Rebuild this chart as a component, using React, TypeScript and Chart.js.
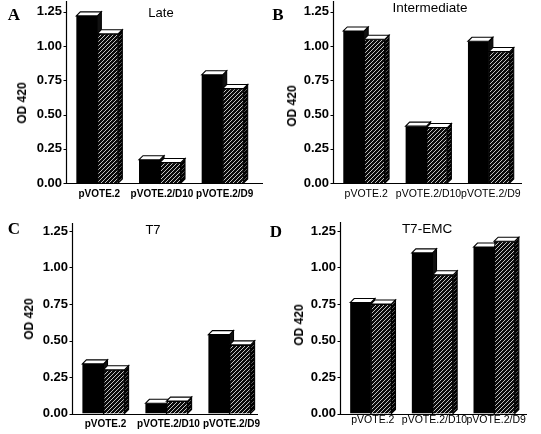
import React, { useEffect, useRef } from "react";
import { Chart, registerables } from "chart.js";

Chart.register(...registerables);

// ---------------- data ----------------
const categories = ["pVOTE.2", "pVOTE.2/D10", "pVOTE.2/D9"];
const yTickValues = [0, 0.25, 0.5, 0.75, 1.0, 1.25];
const yAxisTitle = "OD 420";

const lateSolid = [1.22, 0.17, 0.79];
const lateHatched = [1.09, 0.15, 0.69];
const intermediateSolid = [1.11, 0.415, 1.035];
const intermediateHatched = [1.05, 0.405, 0.96];
const t7Solid = [0.34, 0.07, 0.54];
const t7Hatched = [0.3, 0.085, 0.47];
const t7emcSolid = [0.76, 1.1, 1.14];
const t7emcHatched = [0.75, 0.95, 1.18];

const panelLetters = ["A", "B", "C", "D"];
const panelTitles = ["Late", "Intermediate", "T7", "T7-EMC"];

// ---------------- layout (page coordinates) ----------------
type Layout = {
  left: number; top: number; width: number; height: number;
  L: number; R: number; T: number; B: number;
  axisTop: number; axisRight: number;
  labelBold: boolean; labelPad: number; labelSize: number;
  titleX: number; titleY: number; titleSize: number;
  letterX: number; letterY: number;
  odX: number; odY: number;
};

const layouts: Layout[] = [
  { left: 0, top: 0, width: 270, height: 215, L: 66, R: 254, T: 11, B: 183, axisTop: 1, axisRight: 263,
    labelBold: true, labelPad: 5, labelSize: 10, titleX: 161, titleY: 12, titleSize: 13, letterX: 14, letterY: 14, odX: 22, odY: 103 },
  { left: 270, top: 0, width: 271, height: 215, L: 333, R: 520, T: 11, B: 183, axisTop: 1, axisRight: 522,
    labelBold: false, labelPad: 5, labelSize: 10.5, titleX: 430, titleY: 8, titleSize: 13.5, letterX: 278, letterY: 14, odX: 292, odY: 106 },
  { left: 0, top: 215, width: 270, height: 219, L: 72, R: 261, T: 231, B: 413.5, axisTop: 223, axisRight: 258,
    labelBold: true, labelPad: 4.5, labelSize: 10, titleX: 153, titleY: 229, titleSize: 13, letterX: 14, letterY: 228, odX: 29, odY: 319 },
  { left: 270, top: 215, width: 271, height: 219, L: 340, R: 525, T: 231, B: 413.5, axisTop: 222, axisRight: 527,
    labelBold: false, labelPad: 0.5, labelSize: 10.5, titleX: 427, titleY: 229, titleSize: 13.5, letterX: 276, letterY: 231, odX: 299, odY: 325 },
];

const seriesByPanel: [number[], number[]][] = [
  [lateSolid, lateHatched],
  [intermediateSolid, intermediateHatched],
  [t7Solid, t7Hatched],
  [t7emcSolid, t7emcHatched],
];

const DX = 4;
const DY = 4;

function makeHatch(bg: string, line: string, lw: number): CanvasPattern | string {
  const c = document.createElement("canvas");
  c.width = 4;
  c.height = 4;
  const g = c.getContext("2d");
  if (!g) return bg;
  g.fillStyle = bg;
  g.fillRect(0, 0, 4, 4);
  g.strokeStyle = line;
  g.lineWidth = lw;
  g.beginPath();
  g.moveTo(0, 4); g.lineTo(4, 0);
  g.moveTo(-1, 1); g.lineTo(1, -1);
  g.moveTo(3, 5); g.lineTo(5, 3);
  g.stroke();
  return g.createPattern(c, "repeat") || bg;
}

function draw3d(ctx: CanvasRenderingContext2D, el: any, sideFill: any) {
  const { x, y, base, width } = el.getProps(["x", "y", "base", "width"], true);
  const x0 = x - width / 2;
  const x1 = x + width / 2;
  ctx.save();
  ctx.lineWidth = 1.1;
  ctx.strokeStyle = "#000";
  ctx.beginPath();
  ctx.moveTo(x1, y);
  ctx.lineTo(x1 + DX, y - DY);
  ctx.lineTo(x1 + DX, base - DY);
  ctx.lineTo(x1, base);
  ctx.closePath();
  ctx.fillStyle = sideFill;
  ctx.fill();
  ctx.stroke();
  ctx.beginPath();
  ctx.moveTo(x0, y);
  ctx.lineTo(x0 + DX, y - DY);
  ctx.lineTo(x1 + DX, y - DY);
  ctx.lineTo(x1, y);
  ctx.closePath();
  ctx.fillStyle = "#fff";
  ctx.fill();
  ctx.stroke();
  ctx.restore();
}

function Panel({ index }: { index: number }) {
  const ref = useRef<HTMLCanvasElement | null>(null);
  const lay = layouts[index];
  const [solid, hatched] = seriesByPanel[index];

  useEffect(() => {
    const canvas = ref.current;
    if (!canvas) return;
    const frontHatch = makeHatch("#0a0a0a", "#d8d8d8", 0.9);
    const sideHatch = makeHatch("#000", "#666", 0.9);
    const localAxisTop = lay.axisTop - lay.top;
    const localAxisRight = lay.axisRight - lay.left;

    const bar3dPlugin = {
      id: "bar3d",
      afterDatasetsDraw(chart: any) {
        const ctx = chart.ctx as CanvasRenderingContext2D;
        const m0 = chart.getDatasetMeta(0);
        const m1 = chart.getDatasetMeta(1);
        for (let i = 0; i < m0.data.length; i++) {
          draw3d(ctx, m0.data[i], "#111");
          m1.data[i].draw(ctx);
          draw3d(ctx, m1.data[i], sideHatch);
        }
      },
      afterDraw(chart: any) {
        const ctx = chart.ctx as CanvasRenderingContext2D;
        const { left, bottom } = chart.chartArea;
        const yScale = chart.scales.y;
        const lx = Math.round(left) + 0.5;
        const by = Math.round(bottom) + 0.5;
        ctx.save();
        ctx.strokeStyle = "#000";
        ctx.lineWidth = 1.2;
        ctx.beginPath();
        ctx.moveTo(lx, localAxisTop);
        ctx.lineTo(lx, by);
        ctx.lineTo(localAxisRight, by);
        ctx.stroke();
        ctx.lineWidth = 1;
        ctx.beginPath();
        for (const v of yTickValues) {
          const py = Math.round(yScale.getPixelForValue(v)) + 0.5;
          ctx.moveTo(lx - 3, py);
          ctx.lineTo(lx, py);
        }
        ctx.stroke();
        ctx.restore();
      },
    };

    const chart = new Chart(canvas, {
      type: "bar",
      data: {
        labels: categories,
        datasets: [
          {
            data: solid,
            backgroundColor: "#000",
            borderColor: "#000",
            borderWidth: 0,
            categoryPercentage: 0.67,
            barPercentage: 1,
          },
          {
            data: hatched,
            backgroundColor: frontHatch as any,
            borderColor: "#000",
            borderWidth: 1,
            categoryPercentage: 0.67,
            barPercentage: 1,
          },
        ],
      },
      options: {
        animation: false,
        responsive: false,
        maintainAspectRatio: false,
        events: [],
        layout: {
          padding: {
            left: 0,
            top: lay.T - lay.top,
            right: lay.left + lay.width - lay.R,
            bottom: 0,
          },
        },
        plugins: {
          legend: { display: false },
          tooltip: { enabled: false },
          title: { display: false },
        },
        scales: {
          x: {
            type: "category",
            offset: true,
            grid: { display: false, drawTicks: false },
            border: { display: false },
            ticks: {
              autoSkip: false,
              maxRotation: 0,
              minRotation: 0,
              padding: lay.labelPad,
              labelOffset: 2,
              color: "#000",
              font: { family: "'Liberation Sans', Arial, sans-serif", size: lay.labelSize, weight: lay.labelBold ? "bold" : "normal" },
            },
            afterFit: (s: any) => {
              s.height = lay.top + lay.height - lay.B;
            },
          },
          y: {
            type: "linear",
            min: 0,
            max: 1.25,
            grid: { display: false, drawTicks: false },
            border: { display: false },
            ticks: {
              stepSize: 0.25,
              padding: 4,
              color: "#000",
              font: { family: "'Liberation Sans', Arial, sans-serif", size: 13, weight: "bold" },
              callback: (v: any) => Number(v).toFixed(2),
            },
            afterBuildTicks: (s: any) => {
              s.ticks = yTickValues.map((v) => ({ value: v }));
            },
            afterFit: (s: any) => {
              s.width = lay.L - lay.left;
            },
          },
        },
      } as any,
      plugins: [bar3dPlugin],
    });
    return () => chart.destroy();
  }, [index]);

  const textBase: React.CSSProperties = {
    position: "absolute",
    transform: "translate(-50%, -50%)",
    lineHeight: 1,
    whiteSpace: "nowrap",
    color: "#000",
  };

  return (
    <>
      <canvas
        ref={ref}
        width={lay.width}
        height={lay.height}
        style={{ position: "absolute", left: lay.left, top: lay.top, width: lay.width, height: lay.height }}
      />
      <div
        style={{
          ...textBase,
          left: lay.letterX,
          top: lay.letterY,
          fontFamily: "'Liberation Serif', 'Times New Roman', serif",
          fontWeight: "bold",
          fontSize: 17,
        }}
      >
        {panelLetters[index]}
      </div>
      <div
        style={{
          ...textBase,
          left: lay.titleX,
          top: lay.titleY,
          fontFamily: "'Liberation Sans', Arial, sans-serif",
          fontSize: lay.titleSize,
        }}
      >
        {panelTitles[index]}
      </div>
      <div
        style={{
          ...textBase,
          left: lay.odX,
          top: lay.odY,
          transform: "translate(-50%, -50%) rotate(-90deg)",
          fontFamily: "'Liberation Sans', Arial, sans-serif",
          fontWeight: "bold",
          fontSize: 12,
        }}
      >
        {yAxisTitle}
      </div>
    </>
  );
}

export default function App() {
  return (
    <div
      style={{
        position: "absolute",
        left: 0,
        top: 0,
        width: 541,
        height: 434,
        background: "#fff",
        overflow: "hidden",
      }}
    >
      {layouts.map((_, i) => (
        <Panel key={i} index={i} />
      ))}
    </div>
  );
}
